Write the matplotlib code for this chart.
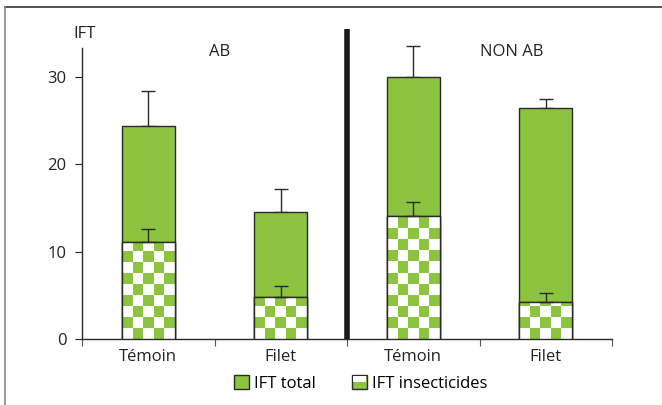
import numpy as np
import matplotlib
matplotlib.use("Agg")
import matplotlib.pyplot as plt
from matplotlib.patches import Rectangle
from matplotlib.legend_handler import HandlerBase
from matplotlib.colors import ListedColormap

# data
categories = ["Témoin", "Filet", "Témoin", "Filet"]
groups = ["AB", "NON AB"]
ift_total = [24.4, 14.5, 30.0, 26.5]
ift_total_err = [4.0, 2.7, 3.6, 1.0]
ift_insect = [11.1, 4.8, 14.1, 4.2]
ift_insect_err = [1.5, 1.3, 1.6, 1.1]
yticks = [0, 10, 20, 30]

green = "#8cc43f"
edge = "#2a2a2a"
plt.rcParams["font.family"] = ["Open Sans", "DejaVu Sans"]

fig = plt.figure(figsize=(6.62, 4.05), dpi=100)
ax = fig.add_axes([0.1239, 0.163, 0.8006, 0.718])
ax.set_xlim(-0.5, 3.5)
ax.set_ylim(0, 33.3)

x = np.arange(len(categories))
width = 0.4
cell_h = 1.26  # checker cell height in data units

bars_tot = ax.bar(x, ift_total, width, color=green, edgecolor=edge, linewidth=1.0, zorder=2)
bars_ins = ax.bar(x, ift_insect, width, color="white", edgecolor=edge, linewidth=1.0, zorder=3)

cmap = ListedColormap(["white", green])
for b in bars_ins:
    x0 = b.get_x()
    h = b.get_height()
    ny = int(np.ceil(h / cell_h))
    nx = 5
    pat = (np.add.outer(np.arange(ny), np.arange(nx)) % 2).astype(float)
    im = ax.imshow(pat, cmap=cmap, extent=(x0, x0 + width, 0, ny * cell_h),
                   origin="lower", aspect="auto", interpolation="nearest", zorder=3.5)
    im.set_clip_path(b)
    ax.add_patch(Rectangle((x0, 0), width, h, fill=False, edgecolor=edge, linewidth=1.0, zorder=4))

eb1 = ax.errorbar(x, ift_total, yerr=[np.zeros(4), ift_total_err], fmt="none",
                  ecolor=edge, elinewidth=1.0, capsize=5, capthick=1.0, zorder=1)
eb2 = ax.errorbar(x, ift_insect, yerr=[np.zeros(4), ift_insect_err], fmt="none",
                  ecolor=edge, elinewidth=1.0, capsize=5, capthick=1.0, zorder=5)
for eb in (eb1, eb2):
    for art in eb.lines[1] + eb.lines[2]:
        art.set_clip_on(False)

# group divider
ax.plot([1.5, 1.5], [0, 35.5], color="#1a1a1a", linewidth=4, clip_on=False, zorder=6, solid_capstyle="butt")

for s in ["top", "right"]:
    ax.spines[s].set_visible(False)
for s in ["left", "bottom"]:
    ax.spines[s].set_color(edge)
    ax.spines[s].set_linewidth(1.0)

ax.set_yticks(yticks)
ax.set_xticks([-0.5, 0.5, 1.5, 2.5, 3.5])
ax.set_xticklabels([])
ax.set_xticks(x, minor=True)
ax.set_xticklabels(categories, minor=True)
ax.tick_params(axis="x", which="minor", length=0, pad=7, labelsize=12, colors="#222222")
ax.tick_params(axis="x", which="major", length=5, color="#555555")
ax.tick_params(axis="y", length=5, labelsize=12, colors="#222222", pad=6)

ax.text(0.005, 1.05, "IFT", transform=ax.transAxes, ha="center", va="center", fontsize=12, color="#222222")
ax.text(0.54, 32.9, groups[0], ha="center", va="center", fontsize=12, color="#222222")
ax.text(2.74, 32.9, groups[1], ha="center", va="center", fontsize=12, color="#222222")


class CheckHandler(HandlerBase):
    def create_artists(self, legend, orig_handle, xdescent, ydescent, width, height, fontsize, trans):
        g = Rectangle((-xdescent, -ydescent), width, height, fc=green, ec=edge, lw=1.0, transform=trans)
        w = Rectangle((-xdescent + 0.8, -ydescent + height / 2), width - 1.6, height / 2 - 0.8,
                      fc="white", ec="none", lw=0, transform=trans)
        return [g, w]


h_total = Rectangle((0, 0), 1, 1, fc=green, ec=edge, lw=1.0)
h_ins = Rectangle((0, 0), 1, 1, fc="white", ec=edge, lw=1.0)
fig.legend([h_total, h_ins], ["IFT total", "IFT insecticides"], loc="center",
           bbox_to_anchor=(0.545, 0.053), ncol=2, frameon=False, fontsize=12,
           handlelength=0.9, handleheight=0.9, handletextpad=0.3, columnspacing=2.2,
           handler_map={h_ins: CheckHandler()})

# outer frame (top and left only)
fig.add_artist(plt.Line2D([0.0075, 1.0], [0.983, 0.983], color="#333333", linewidth=1.2))
fig.add_artist(plt.Line2D([0.0075, 0.0075], [0.0, 0.983], color="#888888", linewidth=1.2))

fig.savefig("out.png", dpi=100)
